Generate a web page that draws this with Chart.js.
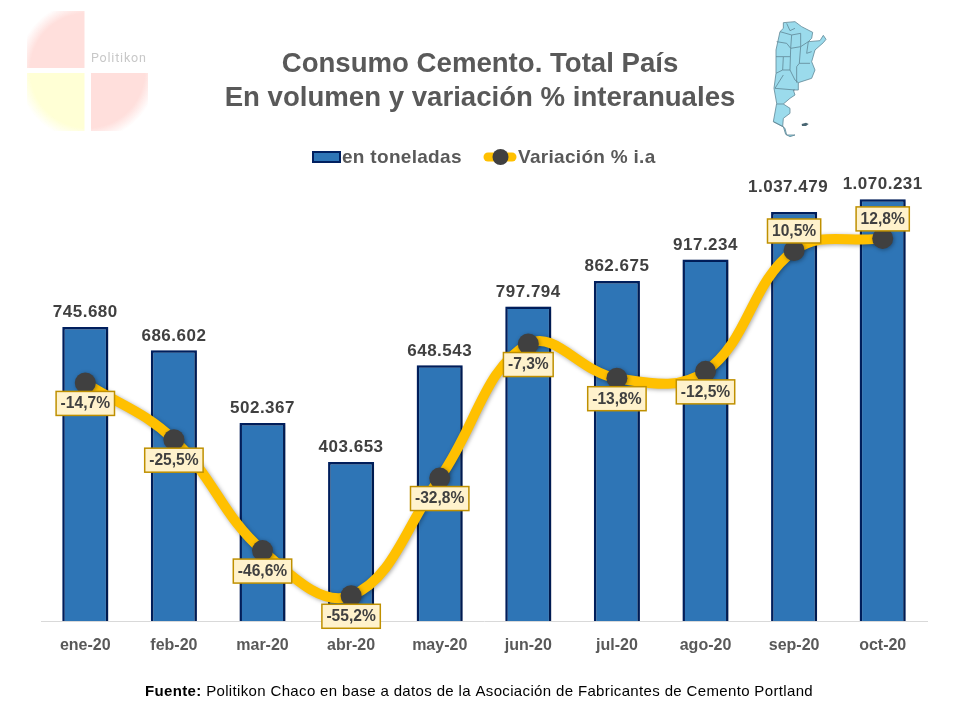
<!DOCTYPE html>
<html lang="es">
<head>
<meta charset="UTF-8">
<title>Consumo Cemento. Total País</title>
<style>
  html, body { margin: 0; padding: 0; background: #fff; }
  #wrap { position: relative; width: 960px; height: 720px; overflow: hidden; }
  #grafico { position: absolute; left: 0; top: 0; }
  .deco { position: absolute; left: 0; top: 0; }
</style>
</head>
<body>
<div id="wrap">
  <canvas id="grafico" width="960" height="720"></canvas>

  <!-- logo y mapa, solo decoracion -->
  <svg class="deco" width="960" height="720" viewBox="0 0 960 720">
    <defs>
      <radialGradient id="rojo" gradientUnits="userSpaceOnUse" cx="87.5" cy="70.5" r="70">
        <stop offset="0.82" stop-color="#FFDFDC"/>
        <stop offset="1" stop-color="#FFDFDC" stop-opacity="0"/>
      </radialGradient>
      <radialGradient id="amarillo" gradientUnits="userSpaceOnUse" cx="87.5" cy="70.5" r="70">
        <stop offset="0.82" stop-color="#FFFFD5"/>
        <stop offset="1" stop-color="#FFFFD5" stop-opacity="0"/>
      </radialGradient>
      <filter id="suave"><feGaussianBlur stdDeviation="0.45"/></filter>
    </defs>
    <rect x="27" y="11" width="57.5" height="57" fill="url(#rojo)"/>
    <rect x="27" y="73" width="57.5" height="58" fill="url(#amarillo)"/>
    <rect x="91" y="73" width="57" height="58" fill="url(#rojo)"/>
    <text x="91" y="62" font-family="Roboto, sans-serif" font-size="12.5" letter-spacing="0.8" fill="#C8C8C8">Politikon</text>

    <g transform="translate(740 0) scale(0.3333)" stroke="#5F8796" stroke-width="2.4" fill="none" filter="url(#suave)">
      <path fill="#9BDBEC" d="M130 68 L165 65 L185 80 L218 97 L215 115 L205 125 L240 122 L250 106 L258 118 L250 128 L225 150 L215 185 L225 210 L215 235 L175 248 L175 270 L160 270 L165 285 L150 295 L130 312 L150 325 L150 340 L130 355 L128 380 L135 385 L140 405 L165 405 L150 410 L137 403 L130 380 L100 365 L110 310 L102 265 L108 220 L108 150 L120 95 L130 85 Z"/>
      <path d="M120 95 L155 105 L182 100 L182 140 L205 125 M155 105 L152 145 L182 140 L178 190 L170 200 M140 70 L150 92 L165 85 M110 125 L140 130 L152 145 L150 210 M108 170 L130 170 L150 170 M130 170 L128 210 L150 210 L165 240 L175 248 M205 125 L200 160 L215 155 M178 190 L210 190 M170 200 L170 248 M108 220 L128 210 M130 225 L105 265 L165 270 M110 312 L130 312 M128 380 L100 365"/>
      <path fill="#4A6672" stroke="none" d="M185 372 L198 368 L206 372 L198 378 L186 378 Z"/>
    </g>
  </svg>
</div>

<script src="https://cdn.jsdelivr.net/npm/chart.js"></script>
<script>
const meses = ['ene-20', 'feb-20', 'mar-20', 'abr-20', 'may-20', 'jun-20', 'jul-20', 'ago-20', 'sep-20', 'oct-20'];
const toneladas = [745680, 686602, 502367, 403653, 648543, 797794, 862675, 917234, 1037479, 1070231];
const variacion = [-14.7, -25.5, -46.6, -55.2, -32.8, -7.3, -13.8, -12.5, 10.5, 12.8];

const titulo = ['Consumo Cemento. Total País', 'En volumen y variación % interanuales'];
const fuenteA = 'Fuente:';
const fuenteB = ' Politikon Chaco en base a datos de la Asociación de Fabricantes de Cemento Portland';

const GRIS = '#595959';
const OSCURO = '#404040';
const FUENTE = '"Liberation Sans", Arial, sans-serif';

function miles(n) {
  return String(n).replace(/\B(?=(\d{3})+$)/g, '.');
}
function porcentaje(n) {
  return n.toFixed(1).replace('.', ',') + '%';
}

// sombra suave de barras y linea
const sombra = {
  id: 'sombra',
  beforeDatasetDraw(chart) {
    chart.ctx.save();
    chart.ctx.shadowColor = 'rgba(0,0,0,0.35)';
    chart.ctx.shadowBlur = 4;
    chart.ctx.shadowOffsetX = 1;
    chart.ctx.shadowOffsetY = 1;
  },
  afterDatasetDraw(chart) {
    chart.ctx.restore();
  }
};

// etiquetas de barras y de la linea
const etiquetas = {
  id: 'etiquetas',
  afterDatasetsDraw(chart) {
    const ctx = chart.ctx;
    const barras = chart.getDatasetMeta(0).data;
    const puntos = chart.getDatasetMeta(1).data;
    ctx.save();
    ctx.textAlign = 'center';
    ctx.textBaseline = 'middle';

    ctx.font = 'bold 17px ' + FUENTE;
    ctx.letterSpacing = '0.5px';
    ctx.fillStyle = OSCURO;
    barras.forEach((b, i) => {
      // la etiqueta de sep-20 esta corrida en el original
      const dx = i === 8 ? -6 : 0;
      const dy = i === 8 ? 24.5 : 14.5;
      ctx.fillText(miles(toneladas[i]), b.x + dx, b.y - dy);
    });

    ctx.font = 'bold 15.6px ' + FUENTE;
    ctx.letterSpacing = '0px';
    puntos.forEach((p, i) => {
      const txt = porcentaje(variacion[i]);
      const w = ctx.measureText(txt).width + 9;
      const cy = variacion[i] > 0 ? p.y - 19.5 : p.y + 20.5;
      ctx.fillStyle = '#FFF2CC';
      ctx.strokeStyle = '#BF9000';
      ctx.lineWidth = 1.5;
      ctx.fillRect(p.x - w / 2, cy - 12, w, 24);
      ctx.strokeRect(p.x - w / 2, cy - 12, w, 24);
      ctx.fillStyle = OSCURO;
      ctx.fillText(txt, p.x, cy + 0.5);
    });
    ctx.restore();
  }
};

// leyenda y fuente
const extras = {
  id: 'extras',
  afterDraw(chart) {
    const ctx = chart.ctx;
    const ds = chart.data.datasets;
    ctx.save();
    ctx.textBaseline = 'middle';
    ctx.textAlign = 'left';

    ctx.fillStyle = ds[0].backgroundColor;
    ctx.strokeStyle = ds[0].borderColor;
    ctx.lineWidth = 2;
    ctx.fillRect(313, 152, 27, 10);
    ctx.strokeRect(313, 152, 27, 10);

    ctx.strokeStyle = ds[1].borderColor;
    ctx.lineWidth = 9;
    ctx.lineCap = 'round';
    ctx.beginPath();
    ctx.moveTo(488, 157);
    ctx.lineTo(512, 157);
    ctx.stroke();
    ctx.fillStyle = ds[1].pointBackgroundColor;
    ctx.beginPath();
    ctx.arc(500.5, 157, 8, 0, Math.PI * 2);
    ctx.fill();

    ctx.font = 'bold 19px ' + FUENTE;
    ctx.letterSpacing = '0.3px';
    ctx.fillStyle = GRIS;
    ctx.fillText(ds[0].label, 342, 157.5);
    ctx.fillText(ds[1].label, 518, 157.5);

    ctx.letterSpacing = '0.35px';
    ctx.fillStyle = '#000';
    ctx.font = 'bold 15px ' + FUENTE;
    ctx.fillText(fuenteA, 145, 692);
    const ancho = ctx.measureText(fuenteA).width;
    ctx.font = '15px ' + FUENTE;
    ctx.fillText(fuenteB, 145 + ancho, 692);
    ctx.restore();
  }
};

new Chart(document.getElementById('grafico'), {
  data: {
    labels: meses,
    datasets: [
      {
        type: 'bar',
        label: 'en toneladas',
        data: toneladas,
        yAxisID: 'y',
        order: 2,
        backgroundColor: '#2E75B6',
        borderColor: '#002060',
        borderWidth: 2.5,
        categoryPercentage: 1,
        barPercentage: 0.52
      },
      {
        type: 'line',
        label: 'Variación % i.a',
        data: variacion,
        yAxisID: 'y1',
        order: 1,
        clip: false,
        borderColor: '#FFC000',
        borderWidth: 10,
        tension: 0.4,
        pointRadius: 10.5,
        pointHoverRadius: 10.5,
        pointBackgroundColor: '#404040',
        pointBorderColor: '#404040',
        pointBorderWidth: 0
      }
    ]
  },
  options: {
    responsive: false,
    animation: false,
    layout: { padding: 0 },
    plugins: {
      legend: { display: false },
      tooltip: { enabled: false },
      title: {
        display: true,
        text: titulo,
        color: GRIS,
        font: { family: FUENTE, size: 27.6, weight: 'bold', lineHeight: 1.232 },
        padding: { top: 47, bottom: 33 }
      }
    },
    scales: {
      x: {
        grid: { display: false },
        border: { color: '#D9D9D9', width: 1 },
        ticks: {
          color: GRIS,
          font: { family: FUENTE, size: 16, weight: 'bold' },
          padding: 7,
          maxRotation: 0
        },
        afterFit(s) { s.height = 99; }
      },
      y: {
        position: 'left',
        min: 0,
        max: 1200000,
        grid: { display: false },
        border: { display: false },
        ticks: { display: false },
        afterFit(s) { s.width = 41; }
      },
      y1: {
        position: 'right',
        min: -60,
        max: 30,
        grid: { display: false },
        border: { display: false },
        ticks: { display: false },
        afterFit(s) { s.width = 33; }
      }
    }
  },
  plugins: [sombra, etiquetas, extras]
});
</script>
</body>
</html>
